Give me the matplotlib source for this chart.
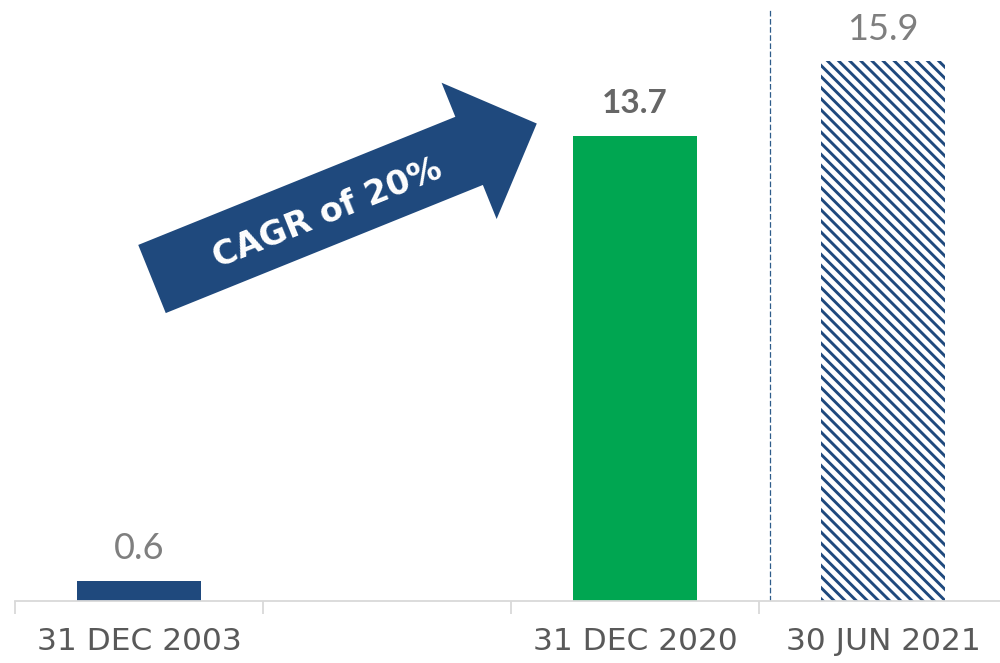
import numpy as np
import matplotlib
matplotlib.use("Agg")
import matplotlib.pyplot as plt
from matplotlib.patches import Polygon

# ---- data ----
categories = ["31 DEC 2003", "", "31 DEC 2020", "30 JUN 2021"]
values = [0.6, np.nan, 13.7, 15.9]
value_labels = ["0.6", "", "13.7", "15.9"]
cagr_text = "CAGR of 20%"

# ---- styles ----
NAVY = "#1F497D"
GREEN = "#00A651"
bar_faces = [NAVY, "none", GREEN, "white"]
bar_hatches = [None, None, None, "\\\\\\"]
label_colors = ["#7F7F7F", "#7F7F7F", "#666666", "#7F7F7F"]
label_weights = ["normal", "normal", "bold", "normal"]
label_sizes = [26, 26, 24, 26]

plt.rcParams["hatch.linewidth"] = 2.1
plt.rcParams["hatch.color"] = NAVY

W, H = 1000, 663
fig = plt.figure(figsize=(W / 100, H / 100), dpi=100)
ax = fig.add_axes([15 / W, 1 - 601 / H, 992 / W, 591 / H])

x = np.arange(len(categories))
for xi, v, fc, hz, lab, lc, lw_, ls in zip(x, values, bar_faces, bar_hatches,
                                             value_labels, label_colors,
                                             label_weights, label_sizes):
    if np.isnan(v):
        continue
    ax.bar(xi, v, width=0.5, color=fc, hatch=hz,
           edgecolor=NAVY if hz else fc, linewidth=0, zorder=2)
    ax.annotate(lab, (xi, v), xytext=(0, 23), textcoords="offset points",
                ha="center", va="center", fontsize=ls, color=lc,
                fontweight=lw_, family="Lato")

ax.set_xlim(-0.5, len(categories) - 0.5)
ax.set_ylim(0, 591 / 33.95)

# separator line
ax.axvline(2.545, color="#2E5C8A", lw=0.9, linestyle=(0, (4.5, 2.0)), zorder=1)

for s in ["top", "right", "left"]:
    ax.spines[s].set_visible(False)
ax.spines["bottom"].set_color("#D9D9D9")
ax.spines["bottom"].set_linewidth(1.3)
ax.set_yticks([])
ax.set_xticks(x)
ax.set_xticklabels(categories, fontsize=22.5, color="#595959", family="DejaVu Sans")
ax.tick_params(axis="x", which="major", length=0, pad=19)
ax.set_xticks(np.arange(-0.5, len(categories), 1.0), minor=True)
ax.tick_params(axis="x", which="minor", length=9.5, width=1.3, color="#D9D9D9")

# ---- CAGR arrow (annotation shape, in image pixel coords) ----
ang = np.deg2rad(22.0)
tail = np.array([152.0, 279.0])
u = np.array([np.cos(ang), -np.sin(ang)])
n = np.array([np.sin(ang), np.cos(ang)])
total_len, shaft_w, head_w, head_len = 415.0, 73.5, 147.0, 73.0
base = tail + u * (total_len - head_len)
tip = tail + u * total_len
pts = [tail - n * shaft_w / 2, base - n * shaft_w / 2, base - n * head_w / 2,
       tip, base + n * head_w / 2, base + n * shaft_w / 2, tail + n * shaft_w / 2]
pts_fig = [(p[0] / W, 1 - p[1] / H) for p in pts]
fig.add_artist(Polygon(pts_fig, closed=True, transform=fig.transFigure,
                       facecolor=NAVY, edgecolor="none"))
fig.text(327 / W, 1 - 214 / H, cagr_text, rotation=22, rotation_mode="anchor",
         ha="center", va="center", color="white", fontsize=24,
         fontweight="semibold", family="DejaVu Sans")

fig.savefig("out.png", dpi=100)
